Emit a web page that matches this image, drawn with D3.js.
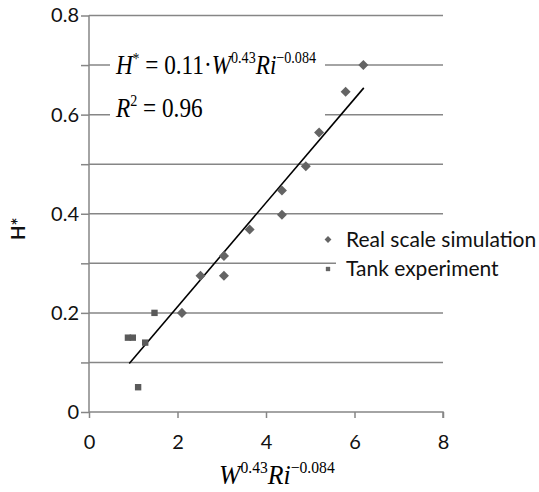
<!DOCTYPE html>
<html>
<head>
<meta charset="utf-8">
<script src="https://cdn.jsdelivr.net/npm/d3@7"></script>
<style>
  body { margin: 0; background: #fff; }
  svg { display: block; }
</style>
</head>
<body>
<script>
// Real scale simulation points (diamonds)
var simX = [6.2, 5.8, 5.2, 4.9, 4.36, 4.36, 3.63, 3.05, 3.05, 2.52, 2.1];
var simY = [0.70, 0.646, 0.564, 0.496, 0.447, 0.398, 0.368, 0.315, 0.275, 0.275, 0.20];
// Tank experiment points (squares)
var tankX = [1.48, 0.88, 0.99, 1.27, 1.11];
var tankY = [0.20, 0.15, 0.15, 0.14, 0.05];
// fitted line end points
var fitX = [0.91, 6.21];
var fitY = [0.098, 0.654];
var xTicks = [0, 2, 4, 6, 8];
var yTicks = [0, 0.1, 0.2, 0.3, 0.4, 0.5, 0.6, 0.7, 0.8];
var legendNames = ["Real scale simulation", "Tank experiment"];

var margin = { top: 15.5, right: 96, bottom: 80, left: 89 },
  width = 539 - margin.left - margin.right,
  height = 492 - margin.top - margin.bottom;

var gridColor = "#868686";
var markColor = "#646464";
var labelFont = "Lato, 'Open Sans', sans-serif";
var mathFont = "'Liberation Serif', 'DejaVu Serif', serif";

var svg = d3.select("body").append("svg")
  .attr("width", 539)
  .attr("height", 492)
  .append("g")
  .attr("transform", "translate(" + margin.left + "," + margin.top + ")");

var x = d3.scaleLinear().domain([0, 8]).range([0, width]);
var y = d3.scaleLinear().domain([0, 0.8]).range([height, 0]);

// horizontal gridlines
svg.append("g").selectAll("line")
  .data(yTicks.filter(function (d) { return d > 0; }))
  .enter().append("line")
  .attr("x1", 0).attr("x2", width)
  .attr("y1", function (d) { return y(d); })
  .attr("y2", function (d) { return y(d); })
  .style("stroke", gridColor)
  .style("stroke-width", 1.5);

// y axis
var yAxis = svg.append("g")
  .call(d3.axisLeft(y).tickValues(yTicks).tickSize(8).tickPadding(2)
    .tickFormat(function (d) {
      var k = Math.round(d * 10);
      if (k === 0) return "0";
      return k % 2 === 0 ? (k / 10).toFixed(1) : "";
    }));

// x axis
var xAxis = svg.append("g")
  .attr("transform", "translate(0," + height + ")")
  .call(d3.axisBottom(x).tickValues(xTicks).tickSize(6).tickPadding(17)
    .tickFormat(d3.format("d")));

[yAxis, xAxis].forEach(function (a) {
  a.selectAll("path, line").style("stroke", gridColor).style("stroke-width", 1.5);
  a.selectAll("text").style("font-family", labelFont).style("font-size", "20px").style("fill", "#111");
});
xAxis.select(".domain").attr("d", "M0,0H" + width + "V6");
yAxis.select(".domain").attr("d", "M0,0V" + height);

// white boxes behind the equation and legend (under the marks)
svg.append("rect")
  .attr("x", 21).attr("y", 35)
  .attr("width", 215).attr("height", 95)
  .style("fill", "#fff");
svg.append("rect")
  .attr("x", 247).attr("y", 209)
  .attr("width", 210).attr("height", 62)
  .style("fill", "#fff");

// fitted line
svg.append("line")
  .attr("x1", x(fitX[0])).attr("y1", y(fitY[0]))
  .attr("x2", x(fitX[1])).attr("y2", y(fitY[1]))
  .style("stroke", "#000")
  .style("stroke-width", 1.6);

// markers
var diamond = d3.symbol().type(d3.symbolDiamond2).size(64);
var square = d3.symbol().type(d3.symbolSquare2).size(52);

svg.append("g").selectAll("path")
  .data(simX.map(function (d, i) { return [d, simY[i]]; }))
  .enter().append("path")
  .attr("d", diamond)
  .attr("transform", function (d) { return "translate(" + x(d[0]) + "," + y(d[1]) + ")"; })
  .style("fill", markColor);

svg.append("g").selectAll("path")
  .data(tankX.map(function (d, i) { return [d, tankY[i]]; }))
  .enter().append("path")
  .attr("d", square)
  .attr("transform", function (d) { return "translate(" + x(d[0]) + "," + y(d[1]) + ")"; })
  .style("fill", "#5a5a5a");

// equation (squeezed horizontally like the reference)
var eqG = svg.append("g").attr("transform", "translate(27,0) scale(0.83,1)");
var eq = eqG.append("text")
  .attr("x", 0).attr("y", 58.5)
  .style("font-family", mathFont)
  .style("font-size", "28px")
  .style("fill", "#000");
eq.append("tspan").style("font-style", "italic").text("H");
eq.append("tspan").attr("dy", -10).style("font-size", "16px").text("*");
eq.append("tspan").attr("dy", 10).text(" = 0.11\u00b7");
eq.append("tspan").style("font-style", "italic").text("W");
eq.append("tspan").attr("dy", -11).style("font-size", "17px").text("0.43");
eq.append("tspan").attr("dy", 11).style("font-style", "italic").text("Ri");
eq.append("tspan").attr("dy", -11).style("font-size", "17px").text("\u22120.084");

var r2 = eqG.append("text")
  .attr("x", 0).attr("y", 102)
  .style("font-family", mathFont)
  .style("font-size", "28px")
  .style("fill", "#000");
r2.append("tspan").style("font-style", "italic").text("R");
r2.append("tspan").attr("dy", -11).style("font-size", "17px").text("2");
r2.append("tspan").attr("dy", 11).text(" = 0.96");

// legend
var legend = svg.append("g").attr("transform", "translate(247,209)");
legendNames.forEach(function (name, i) {
  var ly = 15 + i * 29.5;
  legend.append("path")
    .attr("d", i === 0 ? d3.symbol().type(d3.symbolDiamond2).size(30)() : d3.symbol().type(d3.symbolSquare2).size(24)())
    .attr("transform", "translate(-8," + ly + ")")
    .style("fill", markColor);
  legend.append("text")
    .attr("x", 10).attr("y", ly)
    .attr("dy", "0.35em")
    .style("font-family", labelFont)
    .style("font-size", "21px")
    .style("fill", "#111")
    .text(name);
});

// axis titles
var xt = svg.append("g").attr("transform", "translate(130," + (height + 72) + ") scale(0.92,1)")
  .append("text")
  .style("font-family", mathFont)
  .style("font-size", "28px")
  .style("fill", "#000");
xt.append("tspan").style("font-style", "italic").text("W");
xt.append("tspan").attr("dy", -11).style("font-size", "17px").text("0.43");
xt.append("tspan").attr("dy", 11).style("font-style", "italic").text("Ri");
xt.append("tspan").attr("dy", -11).style("font-size", "17px").text("\u22120.084");

svg.append("text")
  .attr("transform", "translate(" + (-64) + "," + (height / 2 + 15) + ") rotate(-90)")
  .style("text-anchor", "middle")
  .style("font-family", labelFont)
  .style("font-size", "19px")
  .style("font-weight", "bold")
  .style("fill", "#111")
  .text("H*");
</script>
</body>
</html>
